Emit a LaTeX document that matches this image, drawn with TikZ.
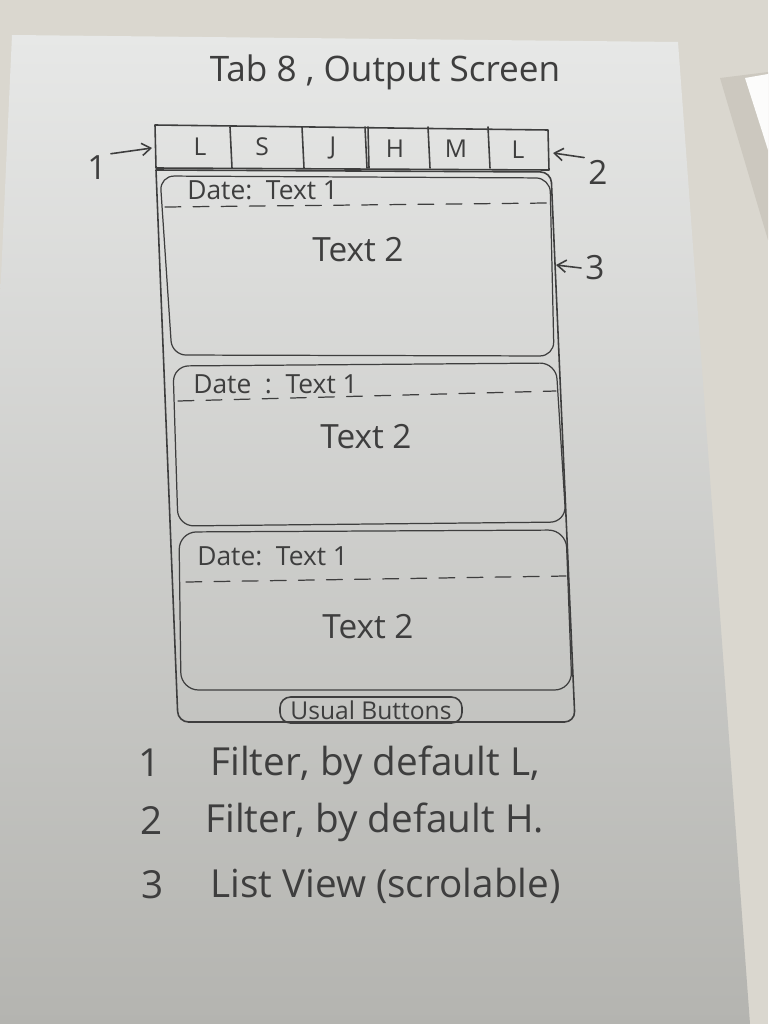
\documentclass[tikz,border=0pt]{standalone}
\usepackage{fontspec}
\setmainfont{Open Sans}
\usetikzlibrary{arrows.meta}
\definecolor{wall}{HTML}{DAD7CF}
\definecolor{papertop}{HTML}{E7E8E7}
\definecolor{papermid}{HTML}{D8D9D7}
\definecolor{paperbot}{HTML}{B4B4B0}
\definecolor{pencil}{HTML}{3E3E3E}
\definecolor{sheetshadow}{HTML}{CCC8BF}
\tikzset{
  pen/.style={draw=pencil, line width=0.9pt, line join=round, line cap=round},
  penthin/.style={pen, line width=0.7pt},
  dashrule/.style={pen, line width=0.7pt, dash pattern=on 9pt off 7pt},
  ink/.style={text=pencil, inner sep=0pt},
  tabtext/.style={ink, font=\fontsize{14}{16}\selectfont},
  datetext/.style={ink, font=\fontsize{15}{18}\selectfont, anchor=west},
  bodytext/.style={ink, font=\fontsize{19}{22}\selectfont},
  legendtext/.style={ink, font=\fontsize{22}{26}\selectfont, anchor=west},
  callout/.style={ink, font=\fontsize{19}{22}\selectfont},
  legendnum/.style={ink, font=\fontsize{22}{26}\selectfont},
  pointer/.style={pen, -{Straight Barb[length=5pt,width=7pt]}},
  pill/.style={pen, rounded corners=6pt, minimum width=182*0.02cm, minimum height=26*0.02cm, ink, font=\fontsize{14}{16}\selectfont}
}
\begin{document}
\begin{tikzpicture}[x=0.02cm, y=-0.02cm]
\useasboundingbox (0,0) rectangle (768,1024);

% wall behind the sheet
\fill[wall] (0,0) rectangle (768,1024);

% a second sheet peeking in at the right
\fill[sheetshadow] (720,78) -- (768,72) -- (768,240) -- cycle;
\fill[white!92!wall] (745,78) -- (768,74) -- (768,150) -- cycle;

% the paper sheet
\shade[top color=papertop, middle color=papermid, bottom color=paperbot]
  (12,35) -- (678,42) -- (750,1024) -- (0,1024) -- (0,300) -- cycle;

% title
\node[ink, font=\fontsize{20}{24}\selectfont] (title) at (385,72) {Tab 8 , Output Screen};

% tab bar
\draw[pen] (155,125) -- (548,130) -- (549,170) -- (156,168) -- cycle;
\foreach \x in {230, 302, 365, 428, 488} {
  \draw[pen] (\x,127) -- (\x+2,168);
}
\draw[pen] (368,127) -- (369,168);
\node[tabtext] (t1) at (200,147) {L};
\node[tabtext] (t2) at (262,147) {S};
\node[tabtext] (t3) at (333,148) {J};
\node[tabtext] (t4) at (395,149) {H};
\node[tabtext] (t5) at (456,149) {M};
\node[tabtext] (t6) at (518,150) {L};
\coordinate (tabL) at (152,148);
\coordinate (tabR) at (553,153);

% list frame
\draw[pen, rounded corners=6pt] (156,170) -- (551,172) -- (575,722) -- (178,722) -- (156,170);
\coordinate (listR) at (556,265);

% card 1
\draw[penthin, rounded corners=8pt] (160,176) -- (550,178) -- (554,356) -- (172,355) -- cycle;
\node[datetext] (d1) at (187,190) {Date:\ \ Text 1};
\draw[dashrule] (165,207) -- (548,203);
\node[bodytext] (b1) at (358,250) {Text 2};

% card 2
\draw[penthin, rounded corners=9pt] (173,366) -- (556,363) -- (566,522) -- (178,526) -- cycle;
\node[datetext] (d2) at (193,384) {Date\ \ :\ \ Text 1};
\draw[dashrule] (178,401) -- (556,391);
\node[bodytext] (b2) at (366,437) {Text 2};

% card 3
\draw[penthin, rounded corners=10pt] (179,532) -- (566,530) -- (572,690) -- (181,690) -- cycle;
\node[datetext] (d3) at (197,556) {Date:\ \ Text 1};
\draw[dashrule] (186,582) -- (566,576);
\node[bodytext] (b3) at (368,627) {Text 2};

% bottom buttons
\node[pill] (btn) at (371,710) {Usual Buttons};

% callouts
\node[callout] (c1) at (97,168) {1};
\node[callout] (c2) at (598,172) {2};
\node[callout] (c3) at (595,268) {3};
\draw[pointer] (c1.north east) ++(4,-2) -- (tabL);
\draw[pointer] (c2.north west) ++(-4,-2) -- (tabR);
\draw[pointer] (c3.west) ++(-4,0) -- (listR);

% legend
\node[legendnum] (n1) at (150,763) {1};
\node[legendtext] (l1) at (210,765) {Filter, by default L,};
\node[legendnum] (n2) at (152,820) {2};
\node[legendtext] (l2) at (205,822) {Filter, by default H.};
\node[legendnum] (n3) at (153,885) {3};
\node[legendtext] (l3) at (210,886) {List View (scrolable)};
\end{tikzpicture}
\end{document}
